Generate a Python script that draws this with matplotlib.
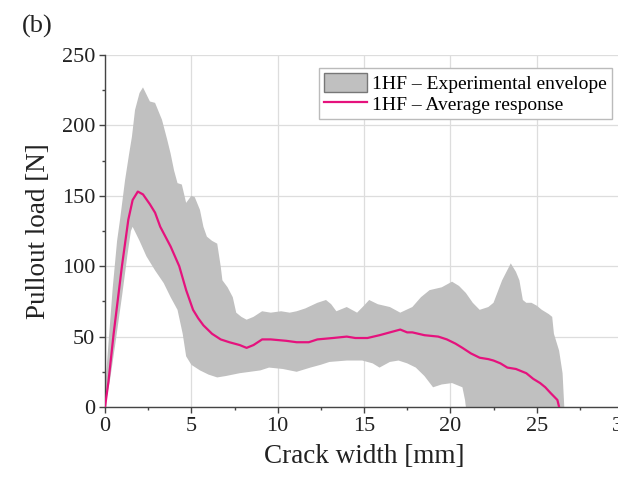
import numpy as np
import matplotlib
matplotlib.use("Agg")
import matplotlib.pyplot as plt
from matplotlib.patches import Patch
from matplotlib.lines import Line2D
from matplotlib.ticker import MultipleLocator

plt.rcParams["font.family"] = ["Liberation Serif", "DejaVu Serif"]

# upper limit of the experimental envelope
x_up = [0, 0.2, 0.45, 0.7, 0.87, 1.16, 1.4, 1.56, 1.74, 2.0, 2.2, 2.4, 2.6, 2.9, 3.1,
        3.3, 3.6, 3.8, 4.0, 4.2, 4.45, 4.7, 5.0, 5.2, 5.5, 5.7, 5.9, 6.2, 6.5, 6.7,
        6.8, 7.1, 7.4, 7.6, 7.9, 8.2, 8.6, 9.1, 9.6, 10.2, 10.7, 11.1, 11.6, 12.3,
        12.8, 13.1, 13.4, 14.0, 14.6, 15.0, 15.3, 15.8, 16.5, 17.1, 17.8, 18.3, 18.8,
        19.5, 20.1, 20.5, 20.9, 21.3, 21.7, 22.2, 22.5, 23.0, 23.5, 23.8, 24.0, 24.2,
        24.4, 24.7, 25.0, 25.3, 25.7, 25.9, 26.0, 26.3, 26.5, 26.6]
y_up = [12, 45, 85, 118, 133, 161, 180, 192, 211, 223, 227, 222, 217, 216, 210,
        204, 190, 180, 168, 159, 158, 145, 150, 149, 140, 128, 121, 118, 116, 100,
        90, 85, 78, 67, 64, 62, 64, 68, 67, 68, 67, 68, 70, 74,
        76, 73, 68, 71, 67, 72, 76, 73, 71, 67, 71, 78, 83,
        85, 89, 86, 81, 74, 69, 71, 74, 90, 102, 96, 90, 76,
        74, 74, 72, 69, 66, 64, 52, 40, 24, 0]

# lower limit of the experimental envelope
x_low = [0, 0.3, 0.6, 1.0, 1.3, 1.5, 1.6, 2.0, 2.4, 2.9, 3.4, 3.8, 4.2, 4.5, 4.7,
         5.0, 5.5, 6.0, 6.5, 7.0, 7.8, 8.4, 9.0, 9.5, 10.3, 11.1, 11.9, 12.5, 13.0,
         14.0, 14.9, 15.5, 15.9, 16.5, 17.0, 17.5, 18.0, 18.5, 19.0, 19.5, 20.1,
         20.7, 20.85, 20.9, 26.6]
y_low = [0, 20, 45, 80, 108, 125, 128, 118, 107, 97, 88, 78, 69, 52, 36,
         30, 26, 23, 21, 22, 24, 25, 26, 28, 27, 25, 28, 30, 32,
         33, 33, 31, 28, 32, 33, 31, 28, 22, 14, 16, 17,
         14, 5, 0, 0]

# average response
x_avg = [0, 0.2, 0.5, 0.98, 1.35, 1.6, 1.9, 2.2, 2.6, 2.9, 3.2, 3.5, 3.8, 4.3, 4.7,
         5.1, 5.4, 5.7, 6.2, 6.7, 7.2, 7.8, 8.2, 8.6, 9.1, 9.6, 10.5, 11.1, 11.8,
         12.3, 13.2, 14.0, 14.5, 15.2, 15.9, 16.5, 17.1, 17.5, 17.8, 18.5, 19.3,
         19.8, 20.3, 20.7, 21.2, 21.7, 22.2, 22.5, 22.9, 23.3, 23.8, 24.4, 24.8,
         25.2, 25.5, 25.8, 26.2, 26.3]
y_avg = [0, 18, 52, 100, 133, 147, 153, 151, 144, 138, 128, 121, 114, 100, 83,
         69, 63, 58, 52, 48, 46, 44, 42, 44, 48, 48, 47, 46, 46,
         48, 49, 50, 49, 49, 51, 53, 55, 53, 53, 51, 50,
         48, 45, 42, 38, 35, 34, 33, 31, 28, 27, 24, 20,
         17, 14, 10, 5, 0]

fig = plt.figure(figsize=(6.18, 4.88), dpi=100)
ax = fig.add_axes([105 / 618, 81 / 488, 518 / 618, 352 / 488])

gris = "#c0c0c0"
rosa = "#e5127d"

ax.fill(np.concatenate([x_up, x_low[::-1]]), np.concatenate([y_up, y_low[::-1]]),
        color=gris, lw=0, zorder=2)
ax.plot(x_avg, y_avg, color=rosa, lw=1.6, zorder=3)

ax.set_xlim(0, 30)
ax.set_ylim(0, 250)
ax.xaxis.set_major_locator(MultipleLocator(5))
ax.xaxis.set_minor_locator(MultipleLocator(2.5))
ax.yaxis.set_major_locator(MultipleLocator(50))
ax.yaxis.set_minor_locator(MultipleLocator(25))
ax.grid(True, which="major", color="#dddddd", lw=0.9, zorder=0)
ax.set_axisbelow(True)

for s in ["top", "right"]:
    ax.spines[s].set_visible(False)
for s in ["left", "bottom"]:
    ax.spines[s].set_color("#444444")
    ax.spines[s].set_linewidth(1.0)
ax.tick_params(which="major", direction="out", length=4, width=1, color="#444444",
               labelsize=16, labelcolor="#222222", pad=3)
ax.tick_params(which="minor", direction="out", length=2.5, width=1, color="#444444")

ax.set_xlabel("Crack width [mm]", fontsize=19.5, color="#222222", labelpad=6)
ax.set_ylabel("Pullout load [N]", fontsize=19.5, color="#222222", labelpad=8)
fig.text(22 / 618, 1 - 33 / 488, "(b)", fontsize=19, color="#222222")

handles = [Patch(facecolor=gris, edgecolor="#777777", lw=1),
           Line2D([], [], color=rosa, lw=1.6)]
labels = ["1HF \u2013 Experimental envelope", "1HF \u2013 Average response"]
ax.legend(handles, labels, loc="upper right", bbox_to_anchor=(612 / 618, 1 - 68 / 488),
          bbox_transform=fig.transFigure, fontsize=14, frameon=True, fancybox=False,
          edgecolor="#bbbbbb", framealpha=1, handlelength=2.2, handleheight=1.1,
          handletextpad=0.3, borderpad=0.25, labelspacing=0.05, borderaxespad=0)

fig.savefig("out.png", dpi=100)
